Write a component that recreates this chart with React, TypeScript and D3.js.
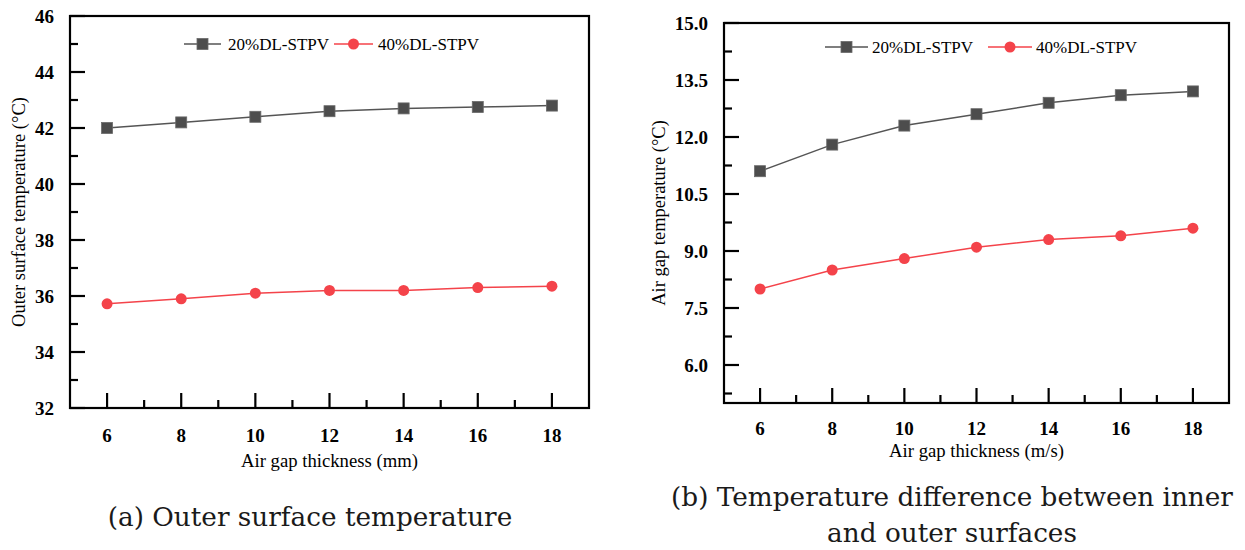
import React from "react";
import * as d3 from "d3";

const xValues = [6, 8, 10, 12, 14, 16, 18];
const xTicksMajor = [6, 8, 10, 12, 14, 16, 18];
const xTicksMinor = [7, 9, 11, 13, 15, 17];

// Chart (a)
const aSeries20 = [42.0, 42.2, 42.4, 42.6, 42.7, 42.75, 42.8];
const aSeries40 = [35.72, 35.9, 36.1, 36.2, 36.2, 36.3, 36.35];
const aYTicks = [32, 34, 36, 38, 40, 42, 44, 46];
const aYMinor = [33, 35, 37, 39, 41, 43, 45];

// Chart (b)
const bSeries20 = [11.1, 11.8, 12.3, 12.6, 12.9, 13.1, 13.2];
const bSeries40 = [8.0, 8.5, 8.8, 9.1, 9.3, 9.4, 9.6];
const bYTicks = [6.0, 7.5, 9.0, 10.5, 12.0, 13.5, 15.0];
const bYMinor = [5.25, 6.75, 8.25, 9.75, 11.25, 12.75, 14.25];

const legendLabels = ["20%DL-STPV", "40%DL-STPV"];

const GRAY = "#4d4d4d";
const GRAY_LINE = "#555555";
const RED = "#f4434a";
const SERIF = "'Liberation Serif', 'Times New Roman', serif";
const CAP = "'DejaVu Serif', serif";

type ChartProps = {
  left: number; top: number; right: number; bottom: number;
  yDomain: [number, number];
  yTicks: number[]; yMinor: number[];
  yFmt: (v: number) => string;
  s20: number[]; s40: number[];
  yTitle: string; xTitle: string;
  yTitleX: number; xLabelY: number; xTitleY: number;
  legendY: number; leg1: [number, number, number]; leg2: [number, number, number];
};

function Chart(p: ChartProps) {
  const x = d3.scaleLinear().domain([5, 19]).range([p.left, p.right]);
  const y = d3.scaleLinear().domain(p.yDomain).range([p.bottom, p.top]);
  const line = d3.line<number>().x((_, i) => x(xValues[i])).y((d) => y(d));
  const majorLen = 15;
  const minorLen = 8;
  const sq = 11;
  const r = 5.5;
  return (
    <g>
      <path d={line(p.s20) || ""} fill="none" stroke={GRAY_LINE} strokeWidth={1.5} />
      <path d={line(p.s40) || ""} fill="none" stroke={RED} strokeWidth={1.5} />
      {p.s20.map((v, i) => (
        <rect key={"s" + i} x={x(xValues[i]) - sq / 2} y={y(v) - sq / 2} width={sq} height={sq}
          fill={GRAY} stroke="#6a6a6a" strokeWidth={0.8} />
      ))}
      {p.s40.map((v, i) => (
        <circle key={"c" + i} cx={x(xValues[i])} cy={y(v)} r={r} fill={RED} />
      ))}
      <rect x={p.left} y={p.top} width={p.right - p.left} height={p.bottom - p.top}
        fill="none" stroke="#000" strokeWidth={2.2} />
      {p.yTicks.map((t) => (
        <g key={"yt" + t}>
          <line x1={p.left} x2={p.left + majorLen} y1={y(t)} y2={y(t)} stroke="#000" strokeWidth={2.2} />
          <text x={p.left - 16} y={y(t)} dy="0.35em" textAnchor="end" fontFamily={SERIF}
            fontWeight="bold" fontSize={19}>{p.yFmt(t)}</text>
        </g>
      ))}
      {p.yMinor.map((t) => (
        <line key={"ym" + t} x1={p.left} x2={p.left + minorLen} y1={y(t)} y2={y(t)} stroke="#000" strokeWidth={2.2} />
      ))}
      {xTicksMajor.map((t) => (
        <g key={"xt" + t}>
          <line x1={x(t)} x2={x(t)} y1={p.bottom} y2={p.bottom - majorLen} stroke="#000" strokeWidth={2.2} />
          <text x={x(t)} y={p.xLabelY} dy="0.35em" textAnchor="middle" fontFamily={SERIF}
            fontWeight="bold" fontSize={19}>{t}</text>
        </g>
      ))}
      {xTicksMinor.map((t) => (
        <line key={"xm" + t} x1={x(t)} x2={x(t)} y1={p.bottom} y2={p.bottom - minorLen} stroke="#000" strokeWidth={2.2} />
      ))}
      <text x={(p.left + p.right) / 2} y={p.xTitleY} dy="0.35em" textAnchor="middle"
        fontFamily={SERIF} fontSize={18.7}>{p.xTitle}</text>
      <text transform={`translate(${p.yTitleX},${(p.top + p.bottom) / 2}) rotate(-90)`} dy="0.35em"
        textAnchor="middle" fontFamily={SERIF} fontSize={18.5}>{p.yTitle}</text>
      <g>
        <line x1={p.leg1[0]} x2={p.leg1[1]} y1={p.legendY} y2={p.legendY} stroke={GRAY_LINE} strokeWidth={1.5} />
        <rect x={(p.leg1[0] + p.leg1[1]) / 2 - sq / 2} y={p.legendY - sq / 2} width={sq} height={sq}
          fill={GRAY} stroke="#6a6a6a" strokeWidth={0.8} />
        <text x={p.leg1[2]} y={p.legendY} dy="0.35em" fontFamily={SERIF} fontSize={17}>{legendLabels[0]}</text>
        <line x1={p.leg2[0]} x2={p.leg2[1]} y1={p.legendY} y2={p.legendY} stroke={RED} strokeWidth={1.5} />
        <circle cx={(p.leg2[0] + p.leg2[1]) / 2} cy={p.legendY} r={r} fill={RED} />
        <text x={p.leg2[2]} y={p.legendY} dy="0.35em" fontFamily={SERIF} fontSize={17}>{legendLabels[1]}</text>
      </g>
    </g>
  );
}

export default function App() {
  return (
    <svg width={1245} height={550} style={{ position: "absolute", left: 0, top: 0, background: "#fff" }}>
      <rect width={1245} height={550} fill="#fff" />
      <Chart left={70} top={16} right={589} bottom={408} yDomain={[32, 46]}
        yTicks={aYTicks} yMinor={aYMinor} yFmt={(v) => String(v)}
        s20={aSeries20} s40={aSeries40}
        yTitle="Outer surface temperature (°C)" xTitle="Air gap thickness (mm)"
        yTitleX={19} xLabelY={435} xTitleY={460}
        legendY={44} leg1={[184, 221, 228]} leg2={[334, 373, 378]} />
      <Chart left={724} top={23} right={1229} bottom={403} yDomain={[5, 15]}
        yTicks={bYTicks} yMinor={bYMinor} yFmt={(v) => v.toFixed(1)}
        s20={bSeries20} s40={bSeries40}
        yTitle="Air gap temperature (°C)" xTitle="Air gap thickness (m/s)"
        yTitleX={659} xLabelY={428} xTitleY={450}
        legendY={47} leg1={[825, 868, 872]} leg2={[988, 1032, 1036]} />
      <text x={310} y={517} dy="0.35em" textAnchor="middle" fontFamily={CAP} fontSize={26.3}
        fill="#1a1a1a">(a) Outer surface temperature</text>
      <text x={952} y={497} dy="0.35em" textAnchor="middle" fontFamily={CAP} fontSize={26.3}
        fill="#1a1a1a">(b) Temperature difference between inner</text>
      <text x={952} y={533} dy="0.35em" textAnchor="middle" fontFamily={CAP} fontSize={26.3}
        fill="#1a1a1a">and outer surfaces</text>
    </svg>
  );
}
